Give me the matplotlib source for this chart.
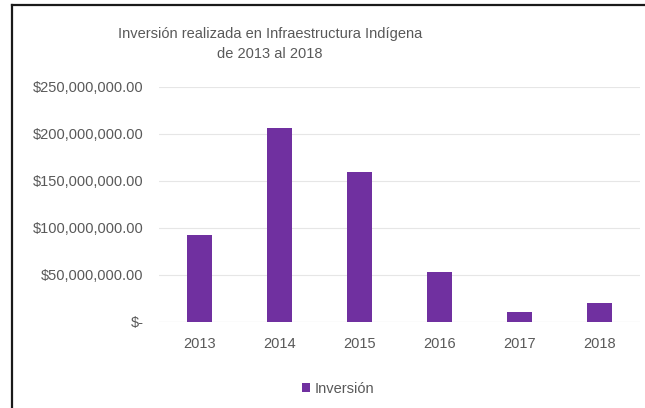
import matplotlib
matplotlib.use("Agg")
import matplotlib.pyplot as plt
from matplotlib.lines import Line2D
from matplotlib.patches import Patch
from matplotlib.ticker import FuncFormatter

# data
years = ["2013", "2014", "2015", "2016", "2017", "2018"]
inversion = [92.5e6, 206e6, 160e6, 53e6, 10.5e6, 20e6]
y_ticks = [0, 50e6, 100e6, 150e6, 200e6, 250e6]

title = "Inversión realizada en Infraestructura Indígena\nde 2013 al 2018"
legend_label = "Inversión"

purple = "#7030A0"
text_col = "#595959"

plt.rcParams["font.family"] = ["Liberation Sans", "DejaVu Sans"]

W, H = 645, 408
fig = plt.figure(figsize=(W / 100, H / 100), dpi=100)

# axes placed in pixel terms
left, right, bottom, top = 159, 640, 322, 87
ax = fig.add_axes([left / W, 1 - bottom / H, (right - left) / W, (bottom - top) / H])

x = range(len(years))
ax.bar(x, inversion, width=0.31, color=purple, zorder=3)

ax.set_xlim(-0.5, len(years) - 0.5)
ax.set_ylim(0, 250e6)
ax.set_yticks(y_ticks)
ax.set_xticks(list(x))
ax.set_xticklabels(years)


def money(v, pos):
    if v == 0:
        return "$-"
    return "${:,.2f}".format(v)


ax.yaxis.set_major_formatter(FuncFormatter(money))
ax.grid(axis="y", color="#e6e6e6", linewidth=0.8, zorder=0)
for s in ax.spines.values():
    s.set_visible(False)
ax.axhline(0, color="#e0e0e0", linewidth=0.8, zorder=1)
ax.tick_params(axis="both", length=0, labelsize=10.5, colors=text_col)
ax.tick_params(axis="y", pad=11)
ax.tick_params(axis="x", pad=11)

fig.text(270 / W, 1 - 44 / H, title, ha="center", va="center",
         fontsize=10.5, color=text_col, linespacing=1.55)

handle = Patch(facecolor=purple, edgecolor="none")
fig.legend([handle], [legend_label], loc="center",
           bbox_to_anchor=(338 / W, 1 - 389 / H), frameon=False,
           fontsize=10.5, labelcolor=text_col, handlelength=0.6,
           handleheight=0.6, handletextpad=0.3)

# frame of the cropped screenshot
fig.add_artist(Line2D([12 / W, 1], [1 - 5 / H, 1 - 5 / H], color="#1a1a1a",
                      linewidth=1.6, transform=fig.transFigure))
fig.add_artist(Line2D([12 / W, 12 / W], [0, 1 - 5 / H], color="#1a1a1a",
                      linewidth=1.6, transform=fig.transFigure))

fig.savefig("out.png", dpi=100)
